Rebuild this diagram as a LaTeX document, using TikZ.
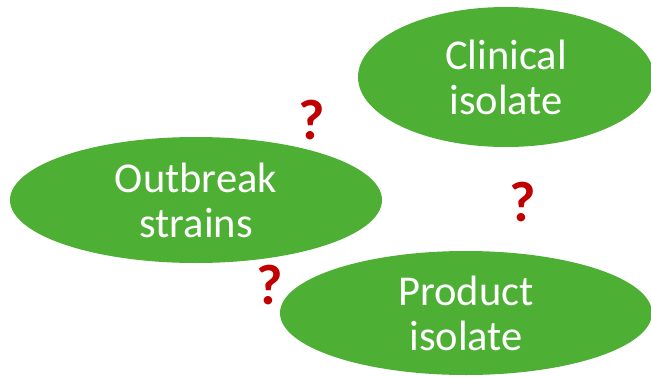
\documentclass[tikz,border=0pt]{standalone}
\usepackage{fontspec}
\setmainfont{Carlito}
\usepackage{tikz}
\usetikzlibrary{shapes.geometric}
\definecolor{leaf}{RGB}{77,176,52}
\definecolor{qred}{RGB}{192,0,0}

\begin{document}
\begin{tikzpicture}[line cap=round,line join=round,x=1pt,y=1pt,
  blob/.style={ellipse,fill=leaf,draw=none,inner sep=0pt,text=white,align=center,
    font=\fontsize{42.5}{45}\selectfont},
  qmark/.style={text=qred,font=\fontsize{57}{57}\bfseries\selectfont,inner sep=0pt}]
\useasboundingbox (0,0) rectangle (651,376);
\node[blob,minimum width=296,minimum height=140] (clinical) at (506,299) {Clinical\\isolate};
\node[blob,minimum width=372,minimum height=126] (outbreak) at (196,176) {Outbreak\\strains};
\node[blob,minimum width=372,minimum height=124] (product) at (466,63) {Product\\isolate};
\node[qmark] (q1) at (312,256) {?};
\node[qmark] (q2) at (523,174) {?};
\node[qmark] (q3) at (270,91) {?};
\end{tikzpicture}
\end{document}
